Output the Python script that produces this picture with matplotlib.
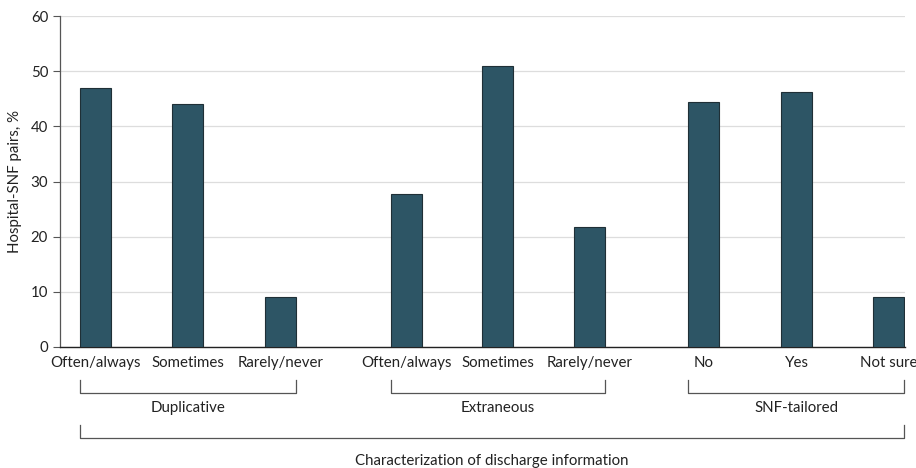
import matplotlib.pyplot as plt
import matplotlib.transforms as mtransforms

plt.rcParams['font.family'] = ['Lato', 'DejaVu Sans']

categories = ['Often/always', 'Sometimes', 'Rarely/never',
              'Often/always', 'Sometimes', 'Rarely/never',
              'No', 'Yes', 'Not sure']
values = [47, 44, 9, 27.8, 51, 21.8, 44.5, 46.2, 9]
groups = ['Duplicative', 'Extraneous', 'SNF-tailored']
group_members = [(0, 2), (3, 5), (6, 8)]
xlabel = 'Characterization of discharge information'
ylabel = 'Hospital-SNF pairs, %'

# bar positions (groups separated by gaps)
xpos = [0, 1, 2, 3.36, 4.35, 5.35, 6.58, 7.59, 8.58]
width = 0.335
barcolor = '#2d5565'
fs = 10.8

fig = plt.figure(figsize=(9.16, 4.68), dpi=100)
ax = fig.add_axes([60 / 916, 1 - 347 / 468, 845 / 916, 331 / 468])

ax.bar(xpos, values, width=width, color=barcolor, edgecolor='#1f2f36', linewidth=0.8, zorder=3)

ax.set_ylim(0, 60)
ax.set_yticks(range(0, 61, 10))
ax.set_xlim(-0.385, 8.76)
ax.set_xticks(xpos)
ax.set_xticklabels(categories, fontsize=fs, color='#222222')
ax.tick_params(axis='x', length=0, pad=6.5)
ax.tick_params(axis='y', length=5, width=0.8, color='#555555', labelsize=fs, labelcolor='#222222')
ax.yaxis.grid(True, color='#dddddd', linewidth=0.9, zorder=0)
ax.set_axisbelow(True)
for s in ['top', 'right']:
    ax.spines[s].set_visible(False)
ax.spines['left'].set_color('#555555')
ax.spines['bottom'].set_color('#222222')
ax.spines['left'].set_linewidth(0.9)
ax.spines['bottom'].set_linewidth(1.0)
ax.set_ylabel(ylabel, fontsize=fs, color='#222222', labelpad=6)

trans = mtransforms.blended_transform_factory(ax.transData, ax.transAxes)
bk = dict(color='#555555', linewidth=0.9, transform=trans, clip_on=False)

# group brackets
for name, (a, b) in zip(groups, group_members):
    x0 = xpos[a] - width / 2
    x1 = xpos[b] + width / 2
    ax.plot([x0, x0, x1, x1], [-0.10, -0.139, -0.139, -0.10], **bk)
    ax.text((x0 + x1) / 2, -0.183, name, transform=trans, ha='center', va='center',
            fontsize=fs, color='#222222')

# overall bracket
x0 = xpos[0] - width / 2
x1 = xpos[-1] + width / 2
ax.plot([x0, x0, x1, x1], [-0.236, -0.275, -0.275, -0.236], **bk)
ax.text((x0 + x1) / 2, -0.345, xlabel, transform=trans, ha='center', va='center',
        fontsize=fs, color='#222222')

fig.savefig('out.png', dpi=100)
